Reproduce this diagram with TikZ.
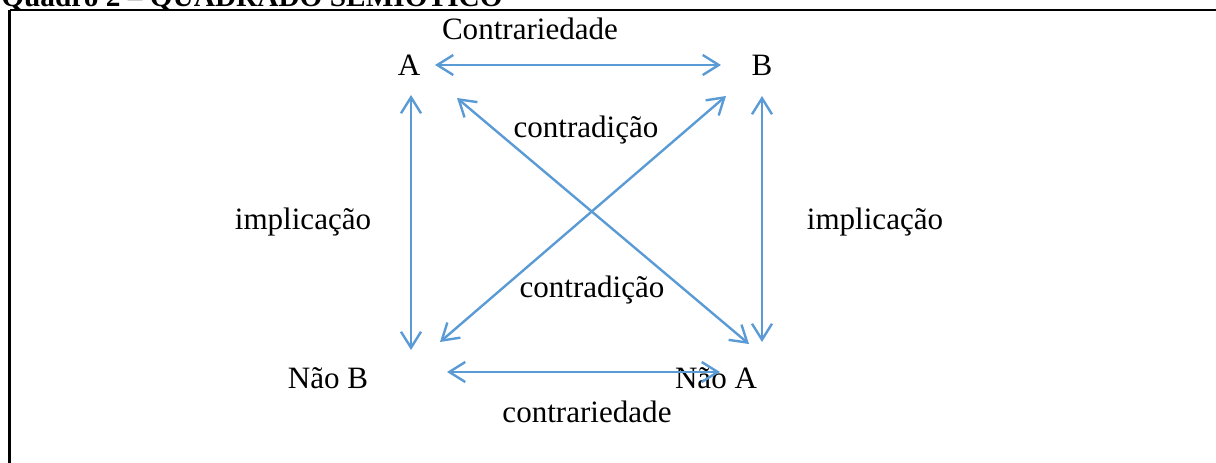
\documentclass[tikz,border=0pt]{standalone}
\usepackage{fontspec}
\setmainfont{Liberation Serif}
\usetikzlibrary{arrows.meta}
\definecolor{arrowblue}{HTML}{5B9BD5}
\tikzset{
  lbl/.style={inner sep=0pt, anchor=base, font=\fontsize{23.3}{28}\selectfont},
  conn/.style={draw=arrowblue, line width=1.8pt,
    {Straight Barb[length=12pt,width=15pt]}-{Straight Barb[length=12pt,width=15pt]}},
  frame/.style={draw=black, line width=2pt}
}
\begin{document}
\begin{tikzpicture}[x=0.75pt,y=-0.75pt]
\useasboundingbox (0,0) rectangle (1216,463);
% title (cut at top) and frame
\node[lbl, anchor=base west, font=\fontsize{22}{26}\selectfont\bfseries] (title) at (1,7) {Quadro 2 -- QUADRADO SEMIÓTICO};
\path[frame] (9.5,10) -- (1240,10);
\path[frame] (9.5,10) -- (9.5,480);
% corner terms
\node[lbl] (A) at (409,76) {A};
\node[lbl] (B) at (762,76) {B};
\node[lbl] (NB) at (328,388) {Não B};
\node[lbl] (NA) at (716,388) {Não A};
% relation labels
\node[lbl] (contr1) at (530,40) {Contrariedade};
\node[lbl] (contd1) at (586,138) {contradição};
\node[lbl] (impl1) at (303,230) {implicação};
\node[lbl] (impl2) at (875,230) {implicação};
\node[lbl] (contd2) at (592,297) {contradição};
\node[lbl] (contr2) at (587,422) {contrariedade};
% connector end points
\coordinate (AB-a) at (435,65);
\coordinate (AB-b) at (721,65);
\coordinate (AN-a) at (411,95);
\coordinate (AN-b) at (411,350);
\coordinate (BN-a) at (762,96);
\coordinate (BN-b) at (762,342);
\coordinate (ANA-a) at (457,98);
\coordinate (ANA-b) at (749,344);
\coordinate (BNB-a) at (726,96);
\coordinate (BNB-b) at (440,342);
\coordinate (NN-a) at (447,372);
\coordinate (NN-b) at (720,372);
% connectors
\draw[conn] (AB-a) -- (AB-b);
\draw[conn] (AN-a) -- (AN-b);
\draw[conn] (BN-a) -- (BN-b);
\draw[conn] (ANA-a) -- (ANA-b);
\draw[conn] (BNB-a) -- (BNB-b);
\draw[conn] (NN-a) -- (NN-b);
\end{tikzpicture}
\end{document}
